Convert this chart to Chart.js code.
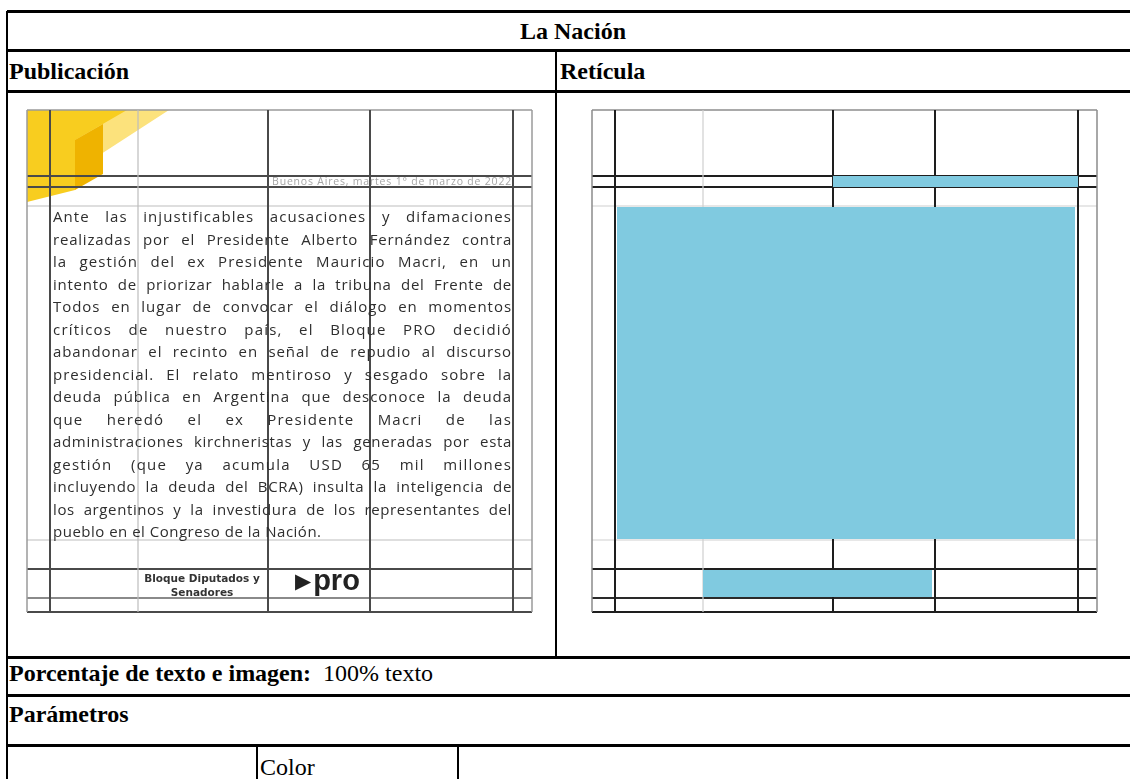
<!DOCTYPE html>
<html lang="es">
<head>
<meta charset="utf-8">
<title>La Nación</title>
<script src="https://cdn.jsdelivr.net/npm/chart.js@4.4.1/dist/chart.umd.min.js"></script>
<style>
    html, body { margin: 0; padding: 0; background: #fff; }
    body { width: 1130px; height: 779px; overflow: hidden; position: relative; font-family: "Liberation Serif", "Times New Roman", serif; color: #000; }
    .hl { position: absolute; left: 7px; width: 1130px; height: 3px; background: #000; }
    .vl { position: absolute; width: 2px; background: #000; }
    .cell { position: absolute; font-size: 24px; line-height: 40px; white-space: nowrap; }
    b { font-weight: bold; }
    canvas { position: absolute; }
    #texto { position: absolute; left: 53px; top: 205px; width: 459px; font-family: "Open Sans", sans-serif; font-size: 15px; line-height: 22.5px; color: #2e2e2e; }
    #texto div { text-align: justify; text-align-last: justify; white-space: nowrap; }
    #texto div.last { text-align-last: left; }
    #fecha { position: absolute; left: 240px; top: 175px; width: 272px; text-align: right; font-family: "Open Sans", sans-serif; font-size: 10.5px; letter-spacing: 0.8px; line-height: 12px; color: #a5a5a5; white-space: nowrap; }
    #bloque { position: absolute; left: 138px; top: 571px; width: 128px; text-align: center; font-family: "DejaVu Sans", sans-serif; font-weight: bold; font-size: 10.5px; line-height: 14px; color: #333; }
    #pro { position: absolute; left: 295px; top: 565px; font-family: "Liberation Sans", Arial, sans-serif; font-weight: bold; font-size: 29px; line-height: 30px; color: #222; white-space: nowrap; }
    #pro span { font-family: "DejaVu Sans", sans-serif; font-size: 21px; vertical-align: 2px; margin-right: 2px; }
</style>
</head>
<body>

<!-- table frame -->
<div class="vl" style="left:6px; top:11px; height:780px;"></div>
<div class="hl" style="top:10px;"></div>
<div class="hl" style="top:49px;"></div>
<div class="hl" style="top:90px;"></div>
<div class="hl" style="top:656px;"></div>
<div class="hl" style="top:694px;"></div>
<div class="hl" style="top:744px;"></div>
<div class="vl" style="left:555px; top:50px; height:607px;"></div>
<div class="vl" style="left:256px; top:745px; height:40px;"></div>
<div class="vl" style="left:457px; top:745px; height:40px;"></div>

<div class="cell" style="left:8px; width:1130px; top:11px; text-align:center;"><b>La Nación</b></div>
<div class="cell" style="left:9px; top:51px;"><b>Publicación</b></div>
<div class="cell" style="left:560px; top:51px;"><b>Retícula</b></div>
<div class="cell" style="left:9px; top:653px;"><b>Porcentaje de texto e imagen:</b>&nbsp; 100% texto</div>
<div class="cell" style="left:9px; top:694px;"><b>Parámetros</b></div>
<div class="cell" style="left:260px; top:747px;">Color</div>

<canvas id="pubChart" width="507" height="504" style="left:26px; top:109px; width:507px; height:504px;"></canvas>
<canvas id="gridChart" width="507" height="504" style="left:591px; top:109px; width:507px; height:504px;"></canvas>

<div id="fecha">Buenos Aires, martes 1° de marzo de 2022</div>
<div id="texto"></div>
<div id="bloque">Bloque Diputados y<br>Senadores</div>
<div id="pro"><span>▶</span>pro</div>

<script>
    // page size of both panels (same units for x and y)
    const pageW = 505;
    const pageH = 502;

    // column guides and their tone
    const gridX = [0, 23, 111, 241, 343, 486, 505];
    const gridXTone = ['edge', 'dark', 'light', 'dark', 'dark', 'dark', 'edge'];
    // row guides and their tone
    const gridY = [0, 66, 77, 96, 430, 459, 488, 502];
    const gridYTone = ['edge', 'dark', 'dark', 'light', 'light', 'dark', 'mid', 'dark'];

    // blue areas of the retícula
    const blueLeft = [241, 25, 111];
    const blueRight = [486, 483, 340];
    const blueTop = [66, 97, 460];
    const blueBottom = [77, 429, 487];

    // yellow corner of the publication
    const yellowShapes = [
        { color: '#fce27c', xs: [0, 142, 0, 0], ys: [0, 0, 92, 0] },
        { color: '#f8cd1f', xs: [0, 100, 48, 48, 0, 0], ys: [0, 0, 30, 80, 92, 0] },
        { color: '#efb300', xs: [48, 76, 76, 48, 48], ys: [30, 14, 64, 80, 30] }
    ];

    // publication text, line by line
    const textLines = [
        'Ante las injustificables acusaciones y difamaciones',
        'realizadas por el Presidente Alberto Fernández contra',
        'la gestión del ex Presidente Mauricio Macri,  en un',
        'intento de priorizar hablarle a la tribuna del Frente de',
        'Todos en lugar de convocar el diálogo en momentos',
        'críticos de nuestro país, el Bloque PRO decidió',
        'abandonar el recinto en señal de repudio al discurso',
        'presidencial. El relato mentiroso y sesgado sobre la',
        'deuda pública en Argentina que desconoce la deuda',
        'que heredó el ex Presidente Macri de las',
        'administraciones kirchneristas y las generadas por esta',
        'gestión (que ya acumula USD 65 mil millones',
        'incluyendo la deuda del BCRA) insulta la inteligencia de',
        'los argentinos y la investidura de los representantes del',
        'pueblo en el Congreso de la Nación.'
    ];

    const toneColor = {
        pub: { edge: '#9a9a9a', dark: '#4a4a4a', light: '#bdbdbd', mid: '#8a8a8a' },
        grid: { edge: '#8c8c8c', dark: '#1e1e1e', light: '#cfcfcf', mid: '#2a2a2a' }
    };
    const toneWidth = { edge: 1.5, dark: 2, light: 1.2, mid: 1.8 };

    // text lines: spread part of the free space into the letters (wide face in the original)
    const texto = document.getElementById('texto');
    const boxW = 459;
    const measure = document.createElement('canvas').getContext('2d');
    measure.font = '15px "Open Sans"';
    textLines.forEach((line, i) => {
        let d = document.createElement('div');
        d.textContent = line;
        let free = boxW - measure.measureText(line).width;
        if (i === textLines.length - 1) {
            d.className = 'last';
            d.style.letterSpacing = '0.5px';
        } else if (free > 0) {
            d.style.letterSpacing = Math.min(1.2, free * 0.5 / line.length).toFixed(2) + 'px';
        }
        texto.appendChild(d);
    });

    const guideSets = (palette) => {
        let sets = [];
        gridX.forEach((x, i) => {
            sets.push({
                data: [{ x: x, y: 0 }, { x: x, y: pageH }],
                borderColor: palette[gridXTone[i]],
                borderWidth: toneWidth[gridXTone[i]],
                order: 2
            });
        });
        gridY.forEach((y, i) => {
            sets.push({
                data: [{ x: 0, y: y }, { x: pageW, y: y }],
                borderColor: palette[gridYTone[i]],
                borderWidth: toneWidth[gridYTone[i]],
                order: 2
            });
        });
        return sets;
    };

    const blueSets = () => blueLeft.map((l, i) => ({
        data: [{ x: l, y: blueTop[i] }, { x: blueRight[i], y: blueTop[i] }],
        borderWidth: 0,
        borderColor: 'rgba(0,0,0,0)',
        backgroundColor: '#80cae0',
        fill: { value: blueBottom[i] },
        order: 1
    }));

    const yellowSets = () => yellowShapes.map((s, i) => ({
        data: s.xs.map((x, j) => ({ x: x, y: s.ys[j] })),
        borderWidth: 0,
        borderColor: 'rgba(0,0,0,0)',
        backgroundColor: s.color,
        fill: 'shape',
        order: 5 - i
    }));

    const makePanel = (id, datasets) => new Chart(document.getElementById(id), {
        type: 'scatter',
        data: {
            datasets: datasets.map((d) => Object.assign({
                showLine: true,
                pointRadius: 0,
                tension: 0,
                clip: false
            }, d))
        },
        options: {
            responsive: false,
            animation: false,
            events: [],
            layout: { padding: 1 },
            plugins: {
                legend: { display: false },
                tooltip: { enabled: false }
            },
            scales: {
                x: { type: 'linear', min: 0, max: pageW, display: false },
                y: { type: 'linear', min: 0, max: pageH, reverse: true, display: false }
            }
        }
    });

    makePanel('pubChart', yellowSets().concat(guideSets(toneColor.pub)));
    makePanel('gridChart', guideSets(toneColor.grid).concat(blueSets()));
</script>
</body>
</html>
